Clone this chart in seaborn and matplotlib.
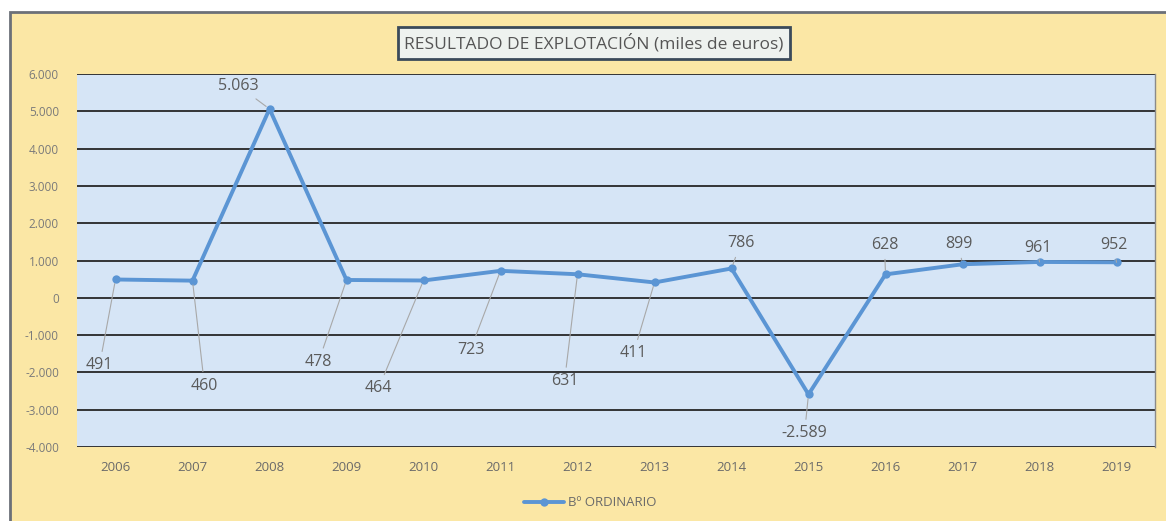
import pandas as pd
import seaborn as sns
import matplotlib.pyplot as plt
from matplotlib.patches import Rectangle
from matplotlib.ticker import FuncFormatter

years = [2006, 2007, 2008, 2009, 2010, 2011, 2012, 2013, 2014, 2015, 2016, 2017, 2018, 2019]
resultado = [491, 460, 5063, 478, 464, 723, 631, 411, 786, -2589, 628, 899, 961, 952]
serie = 'Bº ORDINARIO'
titulo = 'RESULTADO DE EXPLOTACIÓN (miles de euros)'

# label offsets from each point, in pixels (dx, dy)
label_off = [(-16, -86), (12, -105), (-31, 23), (-28, -82), (-45, -108), (-30, -79), (-13, -107),
             (-21, -71), (9, 25), (-4, -39), (-1, 29), (-4, 20), (-2, 14), (-3, 17)]

df = pd.DataFrame({'year': years, 'valor': resultado})

sns.set_theme(style='white')
plt.rcParams['font.family'] = ['Open Sans', 'DejaVu Sans']

def miles(v, pos=None):
    return f"{int(v):,}".replace(",", ".")

fig = plt.figure(figsize=(11.66, 5.21), dpi=100, facecolor='white')
# chart area (yellow) with border
fig.add_artist(Rectangle((10 / 1166, -0.05), 1.1, 1.05 - 12 / 521, transform=fig.transFigure,
                         facecolor='#fbe7a5', edgecolor='#6b7078', linewidth=2, zorder=-10))

ax = fig.add_axes([77 / 1166, 1 - 447 / 521, (1155 - 77) / 1166, (447 - 74) / 521])
ax.set_facecolor('#d6e5f6')

sns.lineplot(data=df, x='year', y='valor', ax=ax, color='#5b95d4', linewidth=2.8,
             marker='o', markersize=6, markeredgewidth=0, label=serie)

ax.set_xlim(2005.5, 2019.5)
ax.set_ylim(-4000, 6000)
ax.set_yticks(range(-4000, 6001, 1000))
ax.set_xticks(years)
ax.yaxis.set_major_formatter(FuncFormatter(miles))
ax.grid(axis='y', color='#262626', linewidth=1.3)
ax.set_axisbelow(True)
ax.tick_params(axis='y', labelsize=8.5, labelcolor='#7a7a7a', length=0, pad=13)
ax.tick_params(axis='x', labelsize=9.5, labelcolor='#6a6a6a', length=0, pad=10)
ax.set_xlabel('')
ax.set_ylabel('')
for side in ['top', 'left', 'bottom']:
    ax.spines[side].set_visible(False)
ax.spines['right'].set_color('#8a8a8a')
ax.spines['right'].set_linewidth(1)

for yr, v, (dx, dy) in zip(years, resultado, label_off):
    ax.annotate(miles(v), xy=(yr, v), xytext=(dx, dy), textcoords='offset pixels',
                ha='center', va='center', fontsize=11.5, color='#5a5a5a',
                arrowprops=dict(arrowstyle='-', color='#a8a8a8', linewidth=0.8,
                                shrinkA=2, shrinkB=3))

fig.text(594 / 1166, 1 - 43 / 521, titulo, ha='center', va='center', fontsize=12.5,
         color='#555555',
         bbox=dict(boxstyle='square,pad=0.38', facecolor='#eef2ef', edgecolor='#3b4a5a', linewidth=2))

leg = ax.legend(loc='center', bbox_to_anchor=(590 / 1166, 1 - 503 / 521), bbox_transform=fig.transFigure,
                frameon=False, fontsize=9.5, handlelength=3, handletextpad=0.3)
for t in leg.get_texts():
    t.set_color('#6a6a6a')

fig.savefig('out.png', dpi=100, facecolor=fig.get_facecolor())
